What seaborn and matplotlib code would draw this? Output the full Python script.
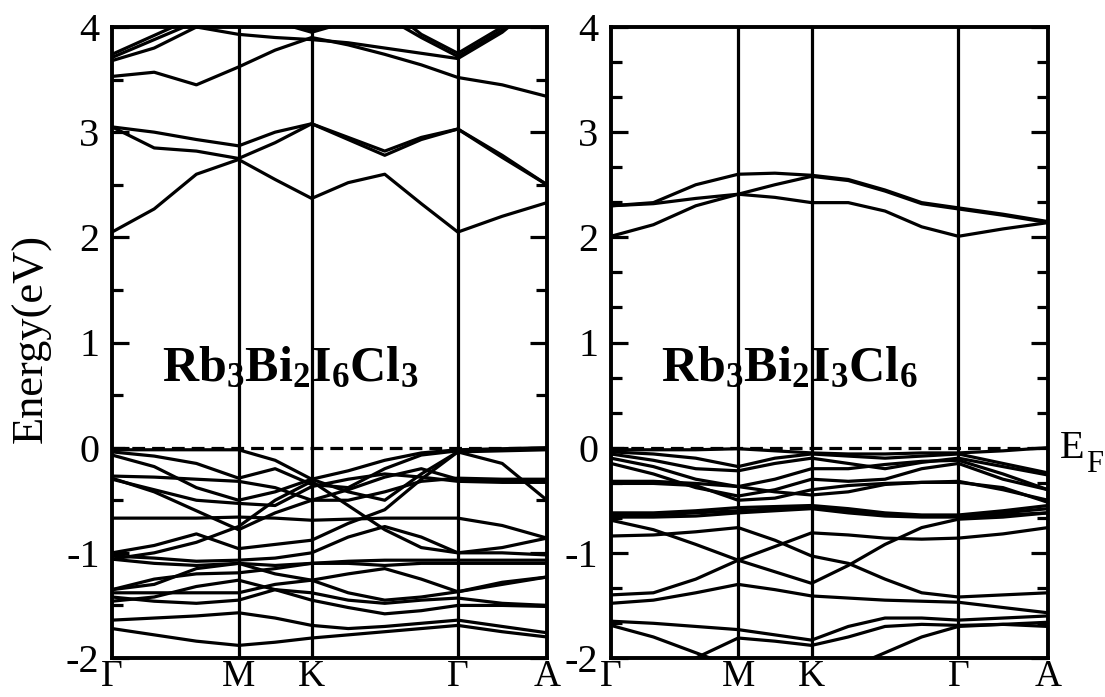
import numpy as np
import pandas as pd
import matplotlib
matplotlib.use("Agg")
import matplotlib.pyplot as plt
from matplotlib.ticker import MultipleLocator
import seaborn as sns

# ---------------- data ----------------
# k-path sample positions (Gamma, .., M, .., K, .., Gamma, .., A)
kpts = [0.0, 0.097, 0.194, 0.291, 0.375, 0.459, 0.543, 0.627, 0.711, 0.795, 0.897, 1.0]
ksym = [0.0, 0.291, 0.459, 0.795, 1.0]
klabels = ["Γ", "M", "K", "Γ", "A"]

left_cond = [
    [2.05, 2.27, 2.60, 2.74, 2.55, 2.37, 2.52, 2.60, 2.32, 2.05, 2.20, 2.33],
    [3.05, 3.00, 2.93, 2.87, 3.00, 3.08, 2.95, 2.82, 2.95, 3.03, 2.78, 2.50],
    [3.05, 2.85, 2.82, 2.75, 2.90, 3.08, 2.93, 2.78, 2.93, 3.03, 2.76, 2.50],
    [3.53, 3.57, 3.45, 3.62, 3.78, 3.90, 3.83, 3.74, 3.64, 3.52, 3.45, 3.34],
    [3.68, 3.80, 4.00, 3.93, 3.90, 3.88, 3.85, 3.80, 3.75, 3.70, 3.95, 4.30],
    [3.71, 3.88, 4.05, 4.10, 4.05, 3.95, 4.05, 4.10, 3.90, 3.72, 3.97, 4.30],
    [3.74, 3.92, 4.10, 4.20, 4.10, 3.97, 4.10, 4.20, 3.93, 3.75, 4.00, 4.35],
]
left_val = [
    [-0.02, -0.02, -0.02, -0.02, -0.12, -0.30, -0.22, -0.12, -0.05, -0.02, -0.01, 0.00],
    [-0.04, -0.08, -0.15, -0.29, -0.20, -0.35, -0.38, -0.20, -0.07, -0.03, -0.02, -0.01],
    [-0.07, -0.18, -0.38, -0.50, -0.42, -0.30, -0.42, -0.50, -0.25, -0.04, -0.15, -0.50],
    [-0.27, -0.28, -0.30, -0.32, -0.38, -0.50, -0.50, -0.42, -0.32, -0.29, -0.30, -0.30],
    [-0.30, -0.40, -0.50, -0.53, -0.55, -0.37, -0.30, -0.25, -0.28, -0.32, -0.33, -0.33],
    [-0.67, -0.67, -0.67, -0.66, -0.67, -0.69, -0.68, -0.67, -0.67, -0.67, -0.74, -0.86],
    [-1.00, -0.93, -0.82, -0.96, -0.92, -0.88, -0.72, -0.59, -0.30, -0.04, -0.03, -0.02],
    [-1.03, -1.05, -1.08, -1.07, -1.05, -1.00, -0.85, -0.75, -0.85, -1.00, -1.00, -1.02],
    [-1.06, -1.10, -1.12, -1.10, -1.12, -1.10, -1.08, -1.07, -1.07, -1.07, -1.07, -1.07],
    [-1.35, -1.25, -1.20, -1.19, -1.15, -1.10, -1.10, -1.12, -1.10, -1.10, -1.10, -1.10],
    [-1.38, -1.38, -1.38, -1.38, -1.30, -1.26, -1.20, -1.15, -1.25, -1.37, -1.30, -1.23],
    [-1.42, -1.46, -1.48, -1.45, -1.35, -1.38, -1.45, -1.48, -1.45, -1.43, -1.48, -1.50],
    [-1.46, -1.42, -1.32, -1.26, -1.35, -1.45, -1.52, -1.58, -1.55, -1.50, -1.50, -1.51],
    [-1.64, -1.62, -1.60, -1.57, -1.62, -1.69, -1.72, -1.70, -1.67, -1.64, -1.70, -1.76],
    [-1.72, -1.78, -1.84, -1.88, -1.85, -1.81, -1.78, -1.75, -1.72, -1.69, -1.75, -1.80],
    [-0.29, -0.42, -0.60, -0.78, -0.62, -0.50, -0.40, -0.28, -0.20, -0.30, -0.31, -0.32],
    [-1.06, -1.00, -0.90, -0.75, -0.50, -0.32, -0.55, -0.78, -0.95, -1.00, -0.95, -0.86],
    [-1.35, -1.30, -1.15, -1.10, -1.20, -1.26, -1.38, -1.45, -1.42, -1.37, -1.28, -1.23],
]
right_cond = [
    [2.01, 2.12, 2.30, 2.41, 2.38, 2.33, 2.33, 2.25, 2.10, 2.01, 2.08, 2.14],
    [2.30, 2.33, 2.50, 2.60, 2.61, 2.59, 2.55, 2.45, 2.33, 2.28, 2.22, 2.15],
    [2.30, 2.32, 2.37, 2.41, 2.50, 2.58, 2.54, 2.44, 2.32, 2.27, 2.21, 2.14],
]
right_val = [
    [-0.02, -0.02, -0.02, -0.01, -0.03, -0.05, -0.06, -0.06, -0.05, -0.05, -0.03, 0.00],
    [-0.04, -0.06, -0.10, -0.18, -0.10, -0.06, -0.08, -0.10, -0.08, -0.06, -0.15, -0.24],
    [-0.06, -0.12, -0.20, -0.22, -0.15, -0.10, -0.15, -0.20, -0.14, -0.10, -0.18, -0.26],
    [-0.10, -0.18, -0.30, -0.37, -0.30, -0.20, -0.20, -0.16, -0.13, -0.12, -0.25, -0.40],
    [-0.15, -0.25, -0.38, -0.46, -0.40, -0.30, -0.32, -0.30, -0.20, -0.15, -0.30, -0.40],
    [-0.32, -0.32, -0.34, -0.37, -0.42, -0.45, -0.42, -0.35, -0.33, -0.32, -0.40, -0.50],
    [-0.34, -0.34, -0.36, -0.50, -0.48, -0.40, -0.36, -0.34, -0.33, -0.33, -0.38, -0.52],
    [-0.62, -0.62, -0.60, -0.57, -0.56, -0.55, -0.58, -0.62, -0.64, -0.64, -0.60, -0.55],
    [-0.64, -0.64, -0.62, -0.60, -0.58, -0.57, -0.60, -0.63, -0.65, -0.65, -0.62, -0.58],
    [-0.66, -0.66, -0.65, -0.62, -0.60, -0.58, -0.62, -0.65, -0.66, -0.66, -0.64, -0.62],
    [-0.69, -0.78, -0.92, -1.07, -1.18, -1.29, -1.12, -0.92, -0.76, -0.68, -0.66, -0.62],
    [-0.84, -0.83, -0.80, -0.76, -0.88, -1.03, -1.10, -1.25, -1.38, -1.42, -1.40, -1.38],
    [-1.40, -1.38, -1.25, -1.07, -0.94, -0.81, -0.83, -0.86, -0.87, -0.86, -0.82, -0.76],
    [-1.48, -1.45, -1.38, -1.30, -1.35, -1.41, -1.43, -1.45, -1.46, -1.47, -1.52, -1.57],
    [-1.65, -1.67, -1.70, -1.73, -1.78, -1.83, -1.70, -1.62, -1.62, -1.64, -1.62, -1.60],
    [-1.69, -1.80, -1.95, -2.10, -2.20, -2.20, -2.10, -1.95, -1.80, -1.70, -1.68, -1.66],
    [-2.30, -2.20, -2.00, -1.81, -1.84, -1.88, -1.80, -1.70, -1.68, -1.69, -1.68, -1.70],
]

panels = [
    (r"$\mathbf{Rb_3Bi_2I_6Cl_3}$", left_cond + left_val, 0.5),
    (r"$\mathbf{Rb_3Bi_2I_3Cl_6}$", right_cond + right_val, 1.0 / 3.0),
]

# ---------------- style ----------------
sns.set_theme(style="white")
plt.rcParams["font.family"] = ["Liberation Serif", "DejaVu Serif"]
plt.rcParams["mathtext.fontset"] = "custom"
plt.rcParams["mathtext.rm"] = "Liberation Serif"
plt.rcParams["mathtext.bf"] = "Liberation Serif:bold"
plt.rcParams["axes.unicode_minus"] = False
for key in ["text.color", "axes.labelcolor", "xtick.color", "ytick.color", "axes.edgecolor"]:
    plt.rcParams[key] = "black"

fig = plt.figure(figsize=(11.05, 6.97), dpi=100)
ax_l = fig.add_axes([112 / 1105, 39 / 697, 435 / 1105, 631 / 697])
ax_r = fig.add_axes([611 / 1105, 39 / 697, 437 / 1105, 631 / 697])

for ax, (tex, bands, minor) in zip([ax_l, ax_r], panels):
    rows = []
    for bi, band in enumerate(bands):
        for k, e in zip(kpts, band):
            rows.append({"k": k, "E": e, "band": bi})
    df = pd.DataFrame(rows)
    sns.lineplot(data=df, x="k", y="E", units="band", estimator=None, sort=False,
                 color="black", lw=2.3, ax=ax, legend=False)
    for line in ax.get_lines():
        line.set_solid_joinstyle("round")
        line.set_solid_capstyle("round")
    for ks in ksym[1:-1]:
        ax.axvline(ks, color="black", lw=2.3, zorder=3)
    ax.axhline(0, color="black", lw=2.3, ls=(0, (4, 2.2)), zorder=3)
    ax.set_xlim(0, 1)
    ax.set_ylim(-2, 4)
    ax.set_xticks(ksym)
    ax.set_xticklabels(klabels)
    ax.set_yticks([-2, -1, 0, 1, 2, 3, 4])
    ax.set_yticklabels(["-2", "-1", "0", "1", "2", "3", "4"])
    ax.yaxis.set_minor_locator(MultipleLocator(minor))
    ax.tick_params(axis="y", which="major", direction="in", length=12, width=2.3,
                   left=True, right=True, labelsize=29, pad=9, colors="black")
    ax.tick_params(axis="y", which="minor", direction="in", length=8, width=2.3,
                   left=True, right=True, colors="black")
    ax.tick_params(axis="x", which="both", length=0, labelsize=27, pad=1, colors="black")
    ax.set_xlabel("")
    ax.set_ylabel("")
    for sp in ax.spines.values():
        sp.set_linewidth(2.8)
        sp.set_color("black")
    ax.text(0.115, 0.63, tex, fontsize=36, ha="left", va="baseline",
            transform=ax.transData, zorder=5, color="black")

fig.text(32 / 1105, 1 - 338 / 697, "Energy(eV)", rotation=90, ha="center",
         va="center", fontsize=32, color="black")
fig.text(1060 / 1105, 1 - 458 / 697, "E", fontsize=29, ha="left", va="baseline", color="black")
fig.text(1086 / 1105, 1 - 472 / 697, "F", fontsize=22, ha="left", va="baseline", color="black")

fig.savefig("out.png", dpi=100)
